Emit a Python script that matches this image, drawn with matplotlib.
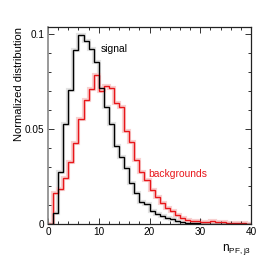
import numpy as np
import matplotlib
matplotlib.use("Agg")
import matplotlib.pyplot as plt
from matplotlib.ticker import MultipleLocator, FixedLocator

plt.rcParams['font.family'] = ['Liberation Sans', 'DejaVu Sans']
plt.rcParams['mathtext.fontset'] = 'custom'
plt.rcParams['mathtext.rm'] = 'Liberation Sans'

# bin edges of n_PF,j3 (unit width, 0..40)
bin_edges = list(range(0, 41))

# normalized distributions
signal = [0.0, 0.0060, 0.0274, 0.0526, 0.0703, 0.0918, 0.0993, 0.0963, 0.0920, 0.0850,
          0.0718, 0.0618, 0.0526, 0.0410, 0.0354, 0.0293, 0.0214, 0.0165, 0.0117, 0.0105,
          0.0068, 0.0050, 0.0040, 0.0031, 0.0024, 0.0014, 0.0010, 0.0007, 0.0005, 0.0003,
          0.0002, 0.0001, 0.0001, 0.0001, 0.0, 0.0, 0.0, 0.0, 0.0, 0.0]
backgrounds = [0.0, 0.0164, 0.0186, 0.0241, 0.0324, 0.0427, 0.0553, 0.0654, 0.0708, 0.0783,
               0.0700, 0.0728, 0.0714, 0.0635, 0.0617, 0.0487, 0.0433, 0.0335, 0.0275, 0.0232,
               0.0180, 0.0140, 0.0108, 0.0084, 0.0070, 0.0047, 0.0030, 0.0021, 0.0018, 0.0015,
               0.0013, 0.0012, 0.0014, 0.0013, 0.0010, 0.0006, 0.0005, 0.0004, 0.0003, 0.0002]

red = '#e8161a'

fig = plt.figure(figsize=(2.66, 2.61), dpi=100)
ax = fig.add_axes([48 / 266, 1 - 224 / 261, 203 / 266, 197.3 / 261])

# light uncertainty bands under the lines
ax.stairs(signal, bin_edges, color='#e2e2e2', lw=3.0, zorder=1)
ax.stairs(backgrounds, bin_edges, color='#f8d0d0', lw=3.0, zorder=1)
ax.stairs(signal, bin_edges, color='black', lw=1.0, zorder=3)
ax.stairs(backgrounds, bin_edges, color=red, lw=1.0, zorder=2)

ax.set_xlim(0, 40)
ax.set_ylim(0, 0.1038)

ax.xaxis.set_major_locator(MultipleLocator(10))
ax.xaxis.set_minor_locator(MultipleLocator(2))
ax.yaxis.set_major_locator(FixedLocator([0, 0.05, 0.1]))
ax.yaxis.set_minor_locator(MultipleLocator(0.01))
ax.set_yticklabels(['0', '0.05', '0.1'])

ax.tick_params(which='both', direction='in', top=True, right=True, labelsize=7.2,
               width=0.7, color='#333333', pad=2.5)
ax.tick_params(which='major', length=4.5)
ax.tick_params(which='minor', length=2.3)

for side in ['top', 'right', 'bottom']:
    ax.spines[side].set_color('#222222')
    ax.spines[side].set_linewidth(0.9)
ax.spines['left'].set_color('#888888')
ax.spines['left'].set_linewidth(1.2)

ax.set_ylabel('Normalized distribution', fontsize=8, loc='top')
ax.yaxis.set_label_coords(-0.12, 1.0)
ax.set_xlabel(r'$\mathregular{n_{PF,j3}}$', fontsize=8.5, loc='right', labelpad=3)

ax.text(10.4, 0.0905, 'signal', fontsize=7.4, color='black', va='baseline')
ax.text(19.7, 0.0247, 'backgrounds', fontsize=7.4, color=red, va='baseline')

fig.savefig('out.png', dpi=100)
